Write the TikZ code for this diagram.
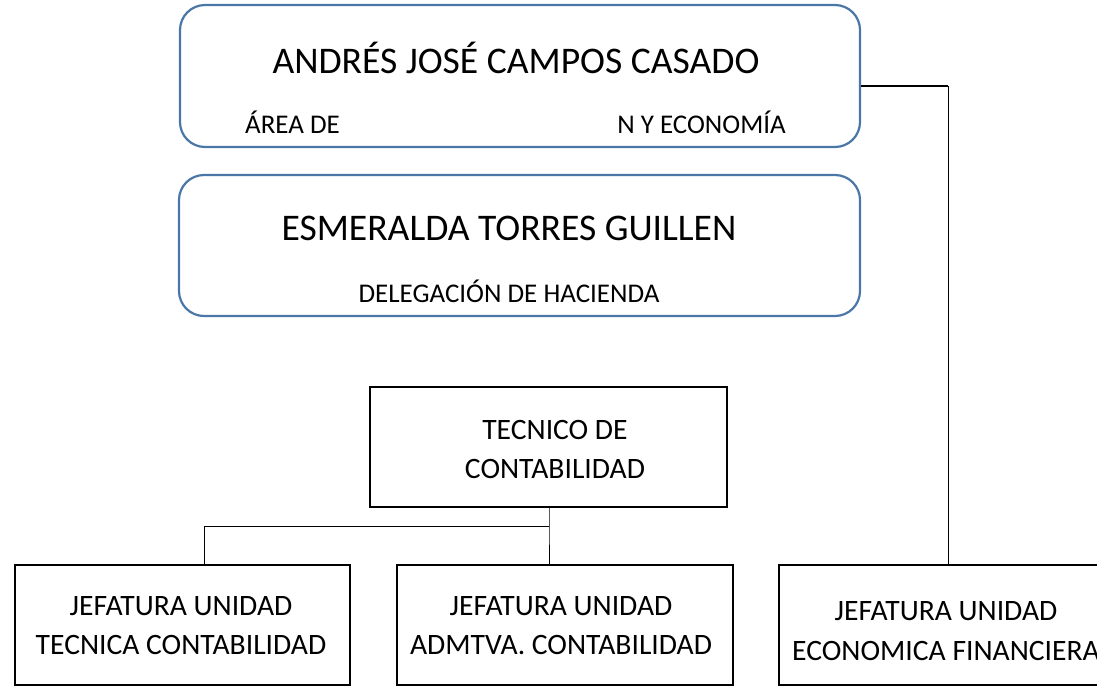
\documentclass[tikz,border=0pt]{standalone}
\usepackage{fontspec}
\setmainfont{Carlito}
\definecolor{boxblue}{RGB}{74,118,168}
\begin{document}
\begin{tikzpicture}[x=1pt,y=-1pt,
  rbox/.style={draw=boxblue, line width=2.2pt, rounded corners=25pt, rectangle, inner sep=0pt},
  sbox/.style={draw=black, line width=1.8pt, rectangle, inner sep=0pt, minimum height=120pt},
  big/.style={font=\fontsize{37.6}{44}\selectfont, inner sep=0pt},
  small/.style={font=\fontsize{27}{39}\selectfont, inner sep=0pt, align=center},
  btxt/.style={font=\fontsize{29.6}{39}\selectfont, inner sep=0pt, align=center},
  conn/.style={draw=black, line width=0.8pt}]
\useasboundingbox (0,0) rectangle (1097,686);
% top rounded boxes
\node[rbox, minimum width=680pt, minimum height=142pt] (top1) at (520,76) {};
\node[big] (t1) at (516,58) {ANDRÉS JOSÉ CAMPOS CASADO};
\node[small, anchor=west] (s1a) at (245,122) {ÁREA DE};
\node[small, anchor=east] (s1b) at (786,122) {N Y ECONOMÍA};
\node[rbox, minimum width=681pt, minimum height=141pt] (top2) at (519.5,245.5) {};
\node[big] (t2) at (509,228) {ESMERALDA TORRES GUILLEN};
\node[small] (s2) at (509,291) {DELEGACIÓN DE HACIENDA};
% middle box
\node[sbox, minimum width=357pt] (tec) at (548.5,447) {};
\node[btxt] (tect) at (555,449.5) {TECNICO DE\\CONTABILIDAD};
% bottom boxes
\node[sbox, minimum width=335pt] (b1) at (182.5,625) {};
\node[btxt] (b1t) at (181,626) {JEFATURA UNIDAD\\TECNICA CONTABILIDAD};
\node[sbox, minimum width=336pt] (b2) at (565,625) {};
\node[btxt] (b2t) at (561,626) {JEFATURA UNIDAD\\ADMTVA. CONTABILIDAD};
\node[sbox, minimum width=338pt] (b3) at (948,625) {};
\node[btxt, font=\fontsize{29.6}{40}\selectfont] (b3t) at (946,631) {JEFATURA UNIDAD\\ECONOMICA FINANCIERA};
% connectors
\coordinate (j) at (549,526);
\coordinate (k1) at (204,0);
\coordinate (k3) at (948,86);
\draw[conn] (j |- tec.south) -- (j) -- (j |- b2.north);
\draw[conn] (j) -| (b1.north -| k1);
\draw[conn, line width=1.5pt] (top1.east |- k3) -- (k3);
\draw[conn] (k3) -- (b3.north);
\end{tikzpicture}
\end{document}
